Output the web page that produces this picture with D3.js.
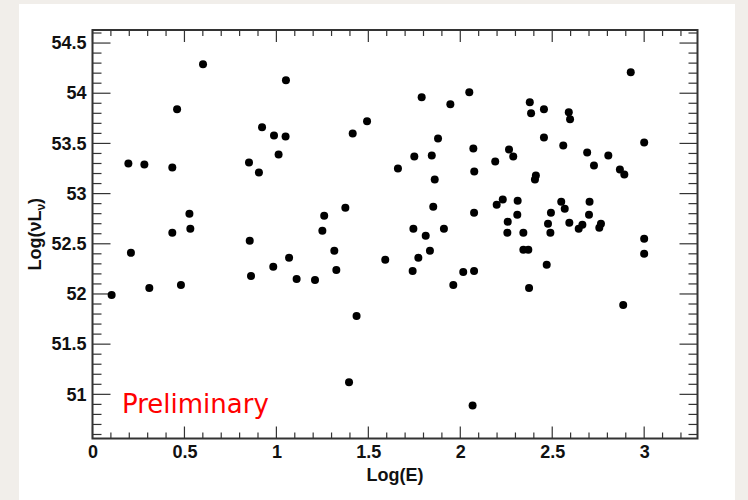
<!DOCTYPE html>
<html>
<head>
<meta charset="utf-8">
<script src="https://cdn.jsdelivr.net/npm/d3@7"></script>
<style>
  body { margin: 0; background: #f1eeea; }
  svg { display: block; }
</style>
</head>
<body>
<svg id="chart" width="748" height="500"></svg>
<script>
// log energy
var logE = [
    0.104, 0.195, 0.209, 0.282, 0.309, 0.434, 0.434, 0.460, 0.481, 0.527,
    0.532, 0.601, 0.851, 0.855, 0.862, 0.905, 0.922, 0.983, 0.987, 1.012,
    1.050, 1.052, 1.069, 1.110, 1.210, 1.250, 1.260, 1.315, 1.326, 1.375,
    1.395, 1.415, 1.436, 1.493, 1.592, 1.661, 1.741, 1.745, 1.750, 1.772,
    1.790, 1.812, 1.835, 1.845, 1.853, 1.861, 1.879, 1.911, 1.946, 1.962,
    2.016, 2.049, 2.067, 2.071, 2.075, 2.075, 2.076, 2.190, 2.198, 2.231,
    2.256, 2.258, 2.265, 2.288, 2.310, 2.312, 2.343, 2.343, 2.370, 2.374,
    2.378, 2.385, 2.406, 2.411, 2.455, 2.455, 2.470, 2.477, 2.490, 2.493,
    2.549, 2.560, 2.568, 2.590, 2.593, 2.597, 2.644, 2.664, 2.690, 2.700,
    2.703, 2.727, 2.756, 2.765, 2.805, 2.868, 2.886, 2.892, 2.927, 3.000,
    3.000, 3.000
];
// log(nu L_nu), same order
var logL = [
    51.99, 53.30, 52.41, 53.29, 52.06, 53.26, 52.61, 53.84, 52.09, 52.80,
    52.65, 54.29, 53.31, 52.53, 52.18, 53.21, 53.66, 52.27, 53.58, 53.39,
    53.57, 54.13, 52.36, 52.15, 52.14, 52.63, 52.78, 52.43, 52.24, 52.86,
    51.12, 53.60, 51.78, 53.72, 52.34, 53.25, 52.23, 52.65, 53.37, 52.36,
    53.96, 52.58, 52.43, 53.38, 52.87, 53.14, 53.55, 52.65, 53.89, 52.09,
    52.22, 54.01, 50.89, 53.45, 52.23, 52.81, 53.22, 53.32, 52.89, 52.94,
    52.61, 52.72, 53.44, 53.37, 52.79, 52.93, 52.61, 52.44, 52.44, 52.06,
    53.91, 53.80, 53.14, 53.18, 53.84, 53.56, 52.29, 52.70, 52.61, 52.81,
    52.92, 53.48, 52.85, 53.81, 52.71, 53.74, 52.65, 52.69, 53.41, 52.79,
    52.92, 53.28, 52.66, 52.70, 53.38, 53.24, 51.89, 53.19, 54.21, 53.51,
    52.55, 52.40
];

var xTicks = [0, 0.5, 1, 1.5, 2, 2.5, 3];
var yTicks = [51, 51.5, 52, 52.5, 53, 53.5, 54, 54.5];

// frame edges (note: "top" is taken by window.top)
var frameL = 92.5, frameR = 697.5, frameT = 30, frameB = 438.5;

var svg = d3.select('#chart');

svg.append('rect')
    .attr('x', 19).attr('y', 4)
    .attr('width', 716).attr('height', 496)
    .attr('fill', '#fff');

var x = d3.scaleLinear().domain([0, 3.29]).range([frameL, frameR]);
var y = d3.scaleLinear().domain([50.56, 54.63]).range([frameB, frameT]);

var minorX = d3.range(0, 3.29, 0.1),
    minorY = d3.range(50.6, 54.63, 0.1);

function isMajor(v) { return Math.abs(v * 2 - Math.round(v * 2)) < 1e-6; }

var ticks = svg.append('g').attr('stroke', '#333').attr('stroke-width', 1.2);

// ticks point inward on all four sides, ROOT style
minorX.forEach(function (v) {
    var len = isMajor(v) ? 12 : 6;
    ticks.append('line')
        .attr('x1', x(v)).attr('x2', x(v))
        .attr('y1', frameB).attr('y2', frameB - len);
    ticks.append('line')
        .attr('x1', x(v)).attr('x2', x(v))
        .attr('y1', frameT).attr('y2', frameT + len);
});
minorY.forEach(function (v) {
    var len = isMajor(v) ? 18 : 9;
    ticks.append('line')
        .attr('y1', y(v)).attr('y2', y(v))
        .attr('x1', frameL).attr('x2', frameL + len);
    ticks.append('line')
        .attr('y1', y(v)).attr('y2', y(v))
        .attr('x1', frameR).attr('x2', frameR - len);
});

svg.append('rect')
    .attr('x', frameL).attr('y', frameT)
    .attr('width', frameR - frameL).attr('height', frameB - frameT)
    .attr('fill', 'none')
    .attr('stroke', '#333')
    .attr('stroke-width', 2);

var xAxis = svg.append('g')
    .attr('transform', 'translate(0,' + frameB + ')')
    .call(d3.axisBottom(x).tickValues(xTicks).tickSize(0).tickPadding(7).tickFormat(d3.format('')));
var yAxis = svg.append('g')
    .attr('transform', 'translate(' + frameL + ',0)')
    .call(d3.axisLeft(y).tickValues(yTicks).tickSize(0).tickPadding(6).tickFormat(d3.format('')));

[xAxis, yAxis].forEach(function (g) {
    g.select('.domain').remove();
    g.selectAll('text')
        .attr('font-family', '"Liberation Sans", Arial, sans-serif')
        .attr('font-weight', 'bold')
        .attr('font-size', 18)
        .attr('fill', '#111');
});

svg.append('text')
    .attr('x', (frameL + frameR) / 2)
    .attr('y', 481)
    .attr('text-anchor', 'middle')
    .attr('font-family', '"Liberation Sans", Arial, sans-serif')
    .attr('font-weight', 'bold')
    .attr('font-size', 18)
    .attr('fill', '#111')
    .text('Log(E)');

var yLabel = svg.append('text')
    .attr('transform', 'translate(41,' + ((frameT + frameB) / 2) + ') rotate(-90)')
    .attr('text-anchor', 'middle')
    .attr('font-family', '"Liberation Sans", Arial, sans-serif')
    .attr('font-weight', 'bold')
    .attr('font-size', 18)
    .attr('fill', '#111');
yLabel.append('tspan').text('Log(\u03BDL');
yLabel.append('tspan').attr('font-size', 12).attr('dy', 4).text('\u03BD');
yLabel.append('tspan').attr('dy', -4).text(')');

svg.append('g')
    .selectAll('circle')
    .data(logE)
    .join('circle')
    .attr('cx', function (d) { return x(d); })
    .attr('cy', function (d, i) { return y(logL[i]); })
    .attr('r', 4)
    .attr('fill', '#000');

svg.append('text')
    .attr('x', 122)
    .attr('y', 413)
    .attr('font-family', '"DejaVu Sans", sans-serif')
    .attr('font-size', 26)
    .attr('fill', '#ff0000')
    .text('Preliminary');
</script>
</body>
</html>
